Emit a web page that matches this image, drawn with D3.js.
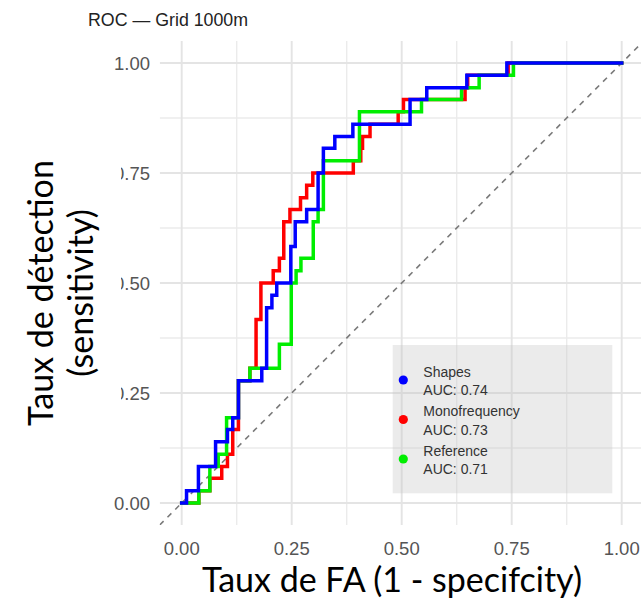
<!DOCTYPE html>
<html>
<head>
<meta charset="utf-8">
<script src="https://cdn.jsdelivr.net/npm/d3@7"></script>
<style>
  html, body { margin: 0; padding: 0; background: #ffffff; }
  svg { display: block; }
</style>
</head>
<body>
<script>
// ---------------- data ----------------
const chartTitle = "ROC — Grid 1000m";
const xTitle = "Taux de FA (1 - specifcity)";
const yTitleLines = ["Taux de détection", "(sensitivity)"];
const tickValues = [0, 0.25, 0.5, 0.75, 1];
const tickLabels = ["0.00", "0.25", "0.50", "0.75", "1.00"];
const minorTicks = [0.125, 0.375, 0.625, 0.875];

const seriesNames = ["Shapes", "Monofrequency", "Reference"];
const seriesAUC = ["AUC: 0.74", "AUC: 0.73", "AUC: 0.71"];
const seriesColors = ["#0000ff", "#ff0000", "#00ee00"];

const shapesFpr = [0, 0.011, 0.038, 0.077, 0.104, 0.116, 0.129, 0.182, 0.193, 0.205, 0.216, 0.248, 0.258, 0.284, 0.31, 0.322, 0.348, 0.389, 0.519, 0.557, 0.648, 0.739, 1.0];
const shapesTpr = [0, 0.028, 0.083, 0.139, 0.167, 0.194, 0.278, 0.306, 0.444, 0.472, 0.5, 0.583, 0.639, 0.667, 0.75, 0.806, 0.833, 0.861, 0.917, 0.944, 0.972, 1.0, 1.0];

const monoFpr = [0, 0.039, 0.064, 0.091, 0.104, 0.116, 0.129, 0.155, 0.169, 0.18, 0.208, 0.222, 0.232, 0.246, 0.27, 0.284, 0.298, 0.39, 0.407, 0.411, 0.428, 0.492, 0.504, 0.644, 0.65, 0.742, 1.0];
const monoTpr = [0, 0.028, 0.056, 0.083, 0.111, 0.167, 0.278, 0.306, 0.417, 0.5, 0.528, 0.556, 0.639, 0.667, 0.694, 0.722, 0.75, 0.778, 0.806, 0.833, 0.861, 0.889, 0.917, 0.944, 0.972, 1.0, 1.0];

const refFpr = [0, 0.039, 0.064, 0.083, 0.102, 0.129, 0.155, 0.222, 0.249, 0.26, 0.271, 0.299, 0.31, 0.322, 0.404, 0.545, 0.636, 0.676, 0.754, 1.0];
const refTpr = [0, 0.028, 0.083, 0.111, 0.194, 0.278, 0.306, 0.361, 0.5, 0.528, 0.556, 0.639, 0.667, 0.778, 0.889, 0.917, 0.944, 0.972, 1.0, 1.0];

// ---------------- chart ----------------
const W = 641, H = 606;
const svg = d3.select("body").append("svg").attr("width", W).attr("height", H);
svg.append("rect").attr("width", W).attr("height", H).attr("fill", "#ffffff");

const x = d3.scaleLinear().domain([-0.05, 1.05]).range([159.7, 643.7]);
const y = d3.scaleLinear().domain([-0.05, 1.05]).range([525, 41]);

const sansFont = "'Liberation Sans', Arial, sans-serif";
const titleFont = "Lato, 'Open Sans', sans-serif";

const defs = svg.append("defs");
defs.append("clipPath").attr("id", "panel")
  .append("rect").attr("x", x.range()[0]).attr("y", y.range()[1])
  .attr("width", x.range()[1] - x.range()[0]).attr("height", y.range()[0] - y.range()[1]);
defs.append("clipPath").attr("id", "ylabclip")
  .append("rect").attr("x", 121).attr("y", 0).attr("width", 100).attr("height", H);

const panel = svg.append("g").attr("clip-path", "url(#panel)");

// grid lines
const gridG = panel.append("g");
gridG.selectAll("line.vminor").data(minorTicks).join("line")
  .attr("x1", d => x(d)).attr("x2", d => x(d))
  .attr("y1", y.range()[1]).attr("y2", y.range()[0])
  .attr("stroke", "#ebebeb").attr("stroke-width", 1.4);
gridG.selectAll("line.hminor").data(minorTicks).join("line")
  .attr("y1", d => y(d)).attr("y2", d => y(d))
  .attr("x1", x.range()[0]).attr("x2", x.range()[1])
  .attr("stroke", "#ebebeb").attr("stroke-width", 1.4);
gridG.selectAll("line.vmajor").data(tickValues).join("line")
  .attr("x1", d => x(d)).attr("x2", d => x(d))
  .attr("y1", y.range()[1]).attr("y2", y.range()[0])
  .attr("stroke", "#e4e4e4").attr("stroke-width", 1.9);
gridG.selectAll("line.hmajor").data(tickValues).join("line")
  .attr("y1", d => y(d)).attr("y2", d => y(d))
  .attr("x1", x.range()[0]).attr("x2", x.range()[1])
  .attr("stroke", "#e4e4e4").attr("stroke-width", 1.9);

// diagonal reference line
panel.append("line")
  .attr("x1", x(-0.05)).attr("y1", y(-0.05))
  .attr("x2", x(1.05)).attr("y2", y(1.05))
  .attr("stroke", "#7a7a7a").attr("stroke-width", 1.6)
  .attr("stroke-dasharray", "5.5,5.5");

// ROC step curves
const line = d3.line().x(d => x(d[0])).y(d => y(d[1])).curve(d3.curveStepAfter);
const curves = [
  { fpr: monoFpr, tpr: monoTpr, color: seriesColors[1] },
  { fpr: refFpr, tpr: refTpr, color: seriesColors[2] },
  { fpr: shapesFpr, tpr: shapesTpr, color: seriesColors[0] }
];
curves.forEach(c => {
  panel.append("path")
    .datum(c.fpr.map((f, i) => [f, c.tpr[i]]))
    .attr("d", line)
    .attr("fill", "none")
    .attr("stroke", c.color)
    .attr("stroke-width", 3.5)
    .attr("stroke-linejoin", "miter")
    .attr("stroke-linecap", "square");
});

// legend box
const lg = svg.append("g");
lg.append("rect")
  .attr("x", 392.7).attr("y", 345).attr("width", 219.6).attr("height", 148.3)
  .attr("fill", "#c6c6c6").attr("fill-opacity", 0.35);
seriesNames.forEach((name, i) => {
  const cy = 380 + i * 39.5;
  lg.append("circle").attr("cx", 403.3).attr("cy", cy).attr("r", 4.6).attr("fill", seriesColors[i]);
  lg.append("text").attr("x", 423.3).attr("y", cy - 3.5)
    .attr("font-family", sansFont).attr("font-size", 14).attr("fill", "#333333")
    .text(name);
  lg.append("text").attr("x", 423.3).attr("y", cy + 15.3)
    .attr("font-family", sansFont).attr("font-size", 14).attr("fill", "#333333")
    .text(seriesAUC[i]);
});

// tick labels
svg.append("g").selectAll("text").data(tickValues).join("text")
  .attr("x", d => x(d)).attr("y", 555)
  .attr("text-anchor", "middle")
  .attr("font-family", sansFont).attr("font-size", 18.5).attr("fill", "#555555")
  .text((d, i) => tickLabels[i]);

svg.append("g").selectAll("text").data(tickValues).join("text")
  .attr("x", 150).attr("y", d => y(d))
  .attr("dy", "0.36em")
  .attr("text-anchor", "end")
  .attr("font-family", sansFont).attr("font-size", 18.5).attr("fill", "#555555")
  .attr("clip-path", d => (d > 0 && d < 1) ? "url(#ylabclip)" : null)
  .text((d, i) => tickLabels[i]);

// chart title
svg.append("text").attr("x", 88).attr("y", 26)
  .attr("font-family", sansFont).attr("font-size", 17.8).attr("fill", "#222222")
  .text(chartTitle);

// axis titles
svg.append("text").attr("x", 392).attr("y", 592)
  .attr("text-anchor", "middle")
  .attr("font-family", titleFont).attr("font-size", 34).attr("fill", "#000000")
  .text(xTitle);

const yt = svg.append("g").attr("transform", "rotate(-90)");
yTitleLines.forEach((t, i) => {
  yt.append("text").attr("x", -293).attr("y", 53 + i * 40)
    .attr("text-anchor", "middle")
    .attr("font-family", titleFont).attr("font-size", 34).attr("fill", "#000000")
    .text(t);
});
</script>
</body>
</html>
